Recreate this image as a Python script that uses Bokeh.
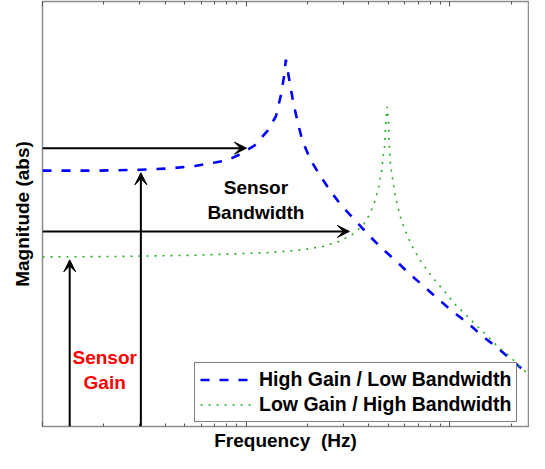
from bokeh.plotting import figure
from bokeh.models import (Range1d, Arrow, VeeHead, Legend, LegendItem, LogAxis,
                          FixedTicker, ColumnDataSource)
from bokeh.core.properties import value
from bokeh.embed import file_html
from bokeh.resources import INLINE

FONT = "Liberation Sans"

# High gain / low bandwidth sensor (blue dashed)
freq_hi = [1.00, 1.83, 3.03, 4.14, 5.61, 7.02, 8.14, 9.46, 10.97, 12.74,
           13.99, 14.80, 15.36, 15.65, 16.24, 16.98, 17.82, 18.85, 20.70, 23.15,
           25.90, 28.96, 34.25, 39.77, 46.14, 54.58, 63.41, 73.58, 87.04, 102.9,
           121.8, 144.0, 170.3, 201.5, 243.0]
mag_hi = [6.02, 6.02, 6.04, 6.07, 6.13, 6.21, 6.27, 6.42, 6.61, 6.96,
          7.30, 7.80, 8.26, 8.63, 8.18, 7.65, 7.19, 6.73, 6.27, 5.89,
          5.54, 5.23, 4.85, 4.51, 4.20, 3.89, 3.59, 3.32, 3.01, 2.71,
          2.44, 2.13, 1.86, 1.56, 1.22]

# Low gain / high bandwidth sensor (green dotted)
freq_lo = [1.00, 2.29, 5.61, 12.70, 18.51, 24.03, 28.42, 32.98, 37.59, 40.52,
           42.85, 44.81, 46.14, 47.02, 47.92, 48.24, 48.79, 49.17, 49.89, 50.28,
           51.02, 52.19, 53.61, 55.20, 57.72, 61.04, 65.28, 70.93, 80.77, 88.72,
           97.34, 106.8, 119.5, 133.6, 149.5, 170.3, 194.2, 217.3, 243.0]
mag_lo = [3.99, 4.00, 4.03, 4.09, 4.15, 4.24, 4.35, 4.51, 4.74, 5.01,
          5.31, 5.66, 6.00, 6.35, 6.65, 7.00, 7.34, 7.52, 7.19, 6.69,
          6.19, 5.85, 5.50, 5.20, 4.85, 4.55, 4.24, 3.93, 3.55, 3.32,
          3.09, 2.86, 2.63, 2.40, 2.17, 1.90, 1.67, 1.44, 1.22]

series_labels = ["High Gain / Low Bandwidth", "Low Gain / High Bandwidth"]

# Annotation arrows
arrow_x_start = [1.0, 1.0, 3.04, 1.36]
arrow_y_start = [6.55, 4.59, 0.0, 0.0]
arrow_x_end = [10.03, 32.1, 3.04, 1.36]
arrow_y_end = [6.55, 4.59, 5.97, 3.92]

# Annotation texts
note_x = [11.16, 2.02]
note_y = [5.33, 1.33]
note_text = ["Sensor\nBandwidth", "Sensor\nGain"]
note_color = ["black", "red"]

major_ticks = [1, 10, 100]
minor_ticks = [2, 3, 4, 5, 6, 7, 8, 9, 20, 30, 40, 50, 60, 70, 80, 90, 200]

p = figure(width=529, height=453, x_axis_type="log",
           x_range=Range1d(1, 243), y_range=Range1d(0, 10),
           output_backend="svg", toolbar_location=None,
           min_border_left=42, min_border_right=1, min_border_top=1,
           min_border_bottom=26)
p.background_fill_color = "white"
p.border_fill_color = "white"
p.outline_line_color = "#8c8c8c"
p.outline_line_width = 1.5
p.grid.visible = False


def style_ticks(ax):
    ax.ticker = FixedTicker(ticks=major_ticks, minor_ticks=minor_ticks)
    ax.axis_line_color = None
    ax.major_tick_in = 5
    ax.major_tick_out = 0
    ax.minor_tick_in = 3
    ax.minor_tick_out = 0
    ax.major_tick_line_color = "#555555"
    ax.minor_tick_line_color = "#555555"
    ax.major_label_text_font_size = "1px"
    ax.major_label_text_alpha = 0
    ax.major_label_standoff = 0


xa = p.xaxis[0]
style_ticks(xa)
xa.axis_label = "Frequency\u00a0 (Hz)"
xa.axis_label_text_font = FONT
xa.axis_label_text_font_size = "19px"
xa.axis_label_text_font_style = "bold"
xa.axis_label_text_color = "black"
xa.axis_label_standoff = 3

top = LogAxis()
style_ticks(top)
p.add_layout(top, "above")

ya = p.yaxis[0]
ya.ticker = FixedTicker(ticks=[])
ya.axis_line_color = None
ya.major_tick_line_color = None
ya.minor_tick_line_color = None
ya.major_label_standoff = 0
ya.axis_label = "Magnitude (abs)"
ya.axis_label_text_font = FONT
ya.axis_label_text_font_size = "19px"
ya.axis_label_text_font_style = "bold"
ya.axis_label_text_color = "black"
ya.axis_label_standoff = 10

r_hi = p.line(freq_hi, mag_hi, line_color="#0000ff", line_width=2.6,
              line_dash="9 10")
r_lo = p.line(freq_lo, mag_lo, line_color="#22b022", line_width=1.6,
              line_dash="2 6")

arrow_src = ColumnDataSource(dict(x0=arrow_x_start, y0=arrow_y_start,
                                  x1=arrow_x_end, y1=arrow_y_end))
p.add_layout(Arrow(end=VeeHead(size=12, fill_color="black", line_color="black",
                               line_width=1),
                   x_start="x0", y_start="y0", x_end="x1", y_end="y1",
                   source=arrow_src, line_color="black", line_width=2))

note_src = ColumnDataSource(dict(x=note_x, y=note_y, text=note_text, color=note_color))
p.text(x="x", y="y", text="text", source=note_src, text_color="color",
       text_font=value(FONT), text_font_style="bold", text_font_size="19px",
       text_align="center", text_baseline="middle", text_line_height=1.2)

legend = Legend(items=[LegendItem(label=series_labels[0], renderers=[r_hi]),
                       LegendItem(label=series_labels[1], renderers=[r_lo])],
                location=(152, 4))
legend.border_line_color = "black"
legend.border_line_width = 1.5
legend.background_fill_color = "white"
legend.background_fill_alpha = 1.0
legend.label_text_font = FONT
legend.label_text_font_size = "19.5px"
legend.label_text_font_style = "bold"
legend.label_text_color = "black"
legend.padding = 5
legend.spacing = 2
legend.margin = 0
legend.glyph_width = 52
legend.glyph_height = 21
legend.label_height = 21
legend.label_standoff = 7
p.add_layout(legend)

open("out.html", "w").write(file_html(p, INLINE))
